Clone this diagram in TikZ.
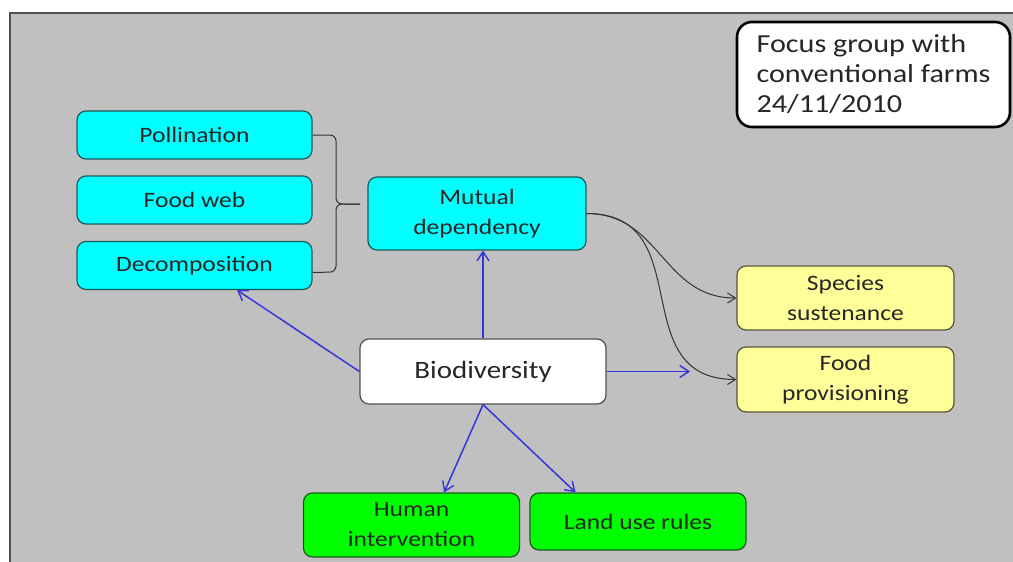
\documentclass[tikz,border=0pt]{standalone}
\usepackage{fontspec}
\setmainfont{Carlito}[FakeStretch=1.16]
\usepackage{tikz}
\usetikzlibrary{arrows.meta,calc}
\usepackage{xcolor}
\definecolor{bggray}{HTML}{C0C0C0}
\definecolor{framegray}{HTML}{505050}
\definecolor{boxcyan}{HTML}{00FFFF}
\definecolor{cyanedge}{HTML}{1C5A5A}
\definecolor{boxyellow}{HTML}{FFFF99}
\definecolor{yellowedge}{HTML}{55553A}
\definecolor{boxgreen}{HTML}{00FF00}
\definecolor{greenedge}{HTML}{1E5A1E}
\definecolor{arrowblue}{HTML}{3535D8}
\tikzstyle{basebox} = [draw, rectangle, rounded corners=9pt, line width=1.2pt, align=center, inner sep=2pt, font=\fontsize{22}{30}\selectfont, text=black!85]
\tikzstyle{cyanbox} = [basebox, fill=boxcyan, draw=cyanedge, minimum width=235pt, minimum height=48pt]
\tikzstyle{yellowbox} = [basebox, fill=boxyellow, draw=yellowedge, minimum width=217pt, minimum height=64pt]
\tikzstyle{greenbox} = [basebox, fill=boxgreen, draw=greenedge, minimum width=216pt]
\tikzstyle{mainbox} = [basebox, fill=white, draw=framegray, minimum width=246pt, minimum height=65pt, font=\fontsize{25}{30}\selectfont]
\tikzstyle{notebox} = [draw=black, fill=white, line width=2.6pt, rectangle, rounded corners=15pt, align=left, minimum width=273pt, minimum height=105pt, font=\fontsize{26}{30}\selectfont, text=black!85]
\tikzstyle{bluearrow} = [draw=arrowblue, line width=1.5pt, -{Straight Barb[length=9pt,width=12pt,line width=1.4pt]}]
\tikzstyle{blackarrow} = [draw=black!80, line width=1pt, -{Straight Barb[length=8pt,width=10pt]}]
\tikzstyle{bracket} = [draw=black!80, line width=1pt, rounded corners=6pt]

\begin{document}
\begin{tikzpicture}[x=1pt,y=-1pt]
\useasboundingbox (0,0) rectangle (1013,562);
\draw[fill=bggray, draw=framegray, line width=1.5pt] (10,13) rectangle (1018,568);

% left group
\node[cyanbox] (poll) at (194.5,135) {Pollination};
\node[cyanbox] (foodweb) at (194.5,200) {Food web};
\node[cyanbox] (decomp) at (194.5,265.5) {Decomposition};
\node[cyanbox, minimum width=218pt, minimum height=73pt] (mutual) at (477,213.5) {Mutual\\dependency};

% centre and outcomes
\node[mainbox] (bio) at (483,371.5) {Biodiversity};
\node[yellowbox] (species) at (845.5,298) {Species\\sustenance};
\node[yellowbox, minimum height=65pt] (food) at (845.5,379.5) {Food\\provisioning};
\node[greenbox, minimum height=64pt] (human) at (411.5,525) {Human\\intervention};
\node[greenbox, minimum height=57pt] (land) at (638,521.5) {Land use rules};

\node[notebox] (focus) at (873.5,74.5) {Focus group with\\conventional farms\\24/11/2010};

% brace
\coordinate (tip) at (360,204);
\draw[bracket] (poll.east) -- (336,135) -- (336,204) -- (tip);
\draw[bracket] ($(decomp.east)+(0,7)$) -- (336,272) -- (336,204) -- (tip);

% connectors
\coordinate (bioend) at (690,371.5);
\draw[bluearrow] (bio.north) -- (bio.north |- mutual.south);
\draw[bluearrow] (bio.west) -- (decomp.-30);
\draw[bluearrow] (bio.east) -- (bioend);
\draw[bluearrow] (bio.south) -- (human.45);
\draw[bluearrow] (bio.south) -- (land.155);
\draw[blackarrow] (mutual.east) to[out=0, in=180, looseness=1.1] (species.west);
\draw[blackarrow] (mutual.east) to[out=0, in=180, looseness=1.3] (food.west);
\end{tikzpicture}
\end{document}
